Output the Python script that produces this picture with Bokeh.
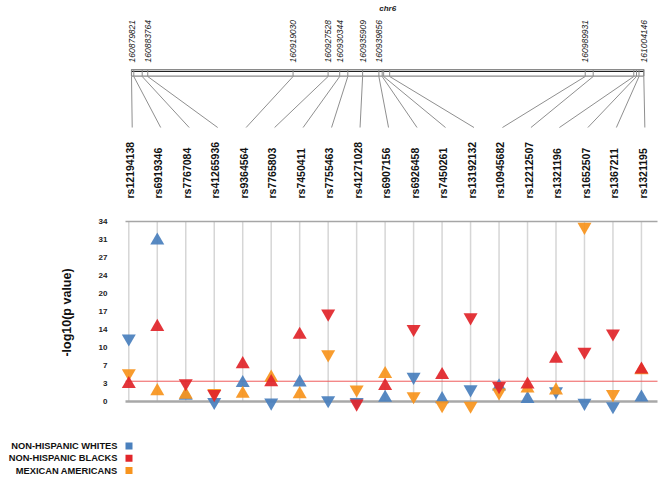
import math
from bokeh.plotting import figure
from bokeh.models import FixedTicker, Label, Range1d, ColumnDataSource
from bokeh.embed import file_html
from bokeh.resources import INLINE
from bokeh.core.properties import value

# ---------------- data ----------------
snps = ["rs12194138", "rs6919346", "rs7767084", "rs41265936", "rs9364564",
        "rs7765803", "rs7450411", "rs7755463", "rs41271028", "rs6907156",
        "rs6926458", "rs7450261", "rs13192132", "rs10945682", "rs12212507",
        "rs1321196", "rs1652507", "rs1367211", "rs1321195"]

positions = [160879821, 160880379, 160882418, 160883764, 160919030,
             160927528, 160930344, 160932312, 160935909, 160939856,
             160940660, 160941016, 160942472, 160989931, 160991865,
             161001718, 161002373, 161002980, 161004146]

labeled_positions = [160879821, 160883764, 160919030, 160927528, 160930344,
                     160935909, 160939856, 160989931, 161004146]
chrom_label = "chr6"

groups = ["NON-HISPANIC WHITES", "NON-HISPANIC BLACKS", "MEXICAN AMERICANS"]

whites_val = [11.9, 30.4, 1.1, -0.1, 3.5, -0.2, 3.6, 0.25, -0.1, 0.7,
              4.65, 0.45, 2.3, 2.85, 0.5, 1.95, -0.25, -0.9, 0.75]
whites_dir = ["d", "u", "u", "d", "u", "d", "u", "d", "d", "u",
              "d", "u", "d", "u", "u", "d", "d", "d", "u"]

blacks_val = [3.3, 14.1, 3.45, 1.4, 7.05, 3.65, 12.6, 16.6, -0.4, 2.95,
              13.7, 5.0, 15.9, 2.9, 3.2, 8.1, 9.4, 12.85, 6.05]
blacks_dir = ["u", "u", "d", "d", "u", "u", "u", "d", "d", "u",
              "d", "u", "d", "d", "u", "u", "d", "d", "u"]

mexican_val = [5.35, 1.95, 1.3, 1.6, 1.45, 4.5, 1.4, 8.9, 2.27, 5.2,
               1.0, -0.7, -0.8, 1.7, 2.45, 2.1, 33.0, 1.4, 5.9]
mexican_dir = ["d", "u", "u", "d", "u", "u", "u", "d", "d", "u",
               "d", "d", "d", "d", "u", "u", "d", "d", "u"]

threshold = 3.83

ytick_values = [0, 3.4, 6.8, 10.2, 13.6, 17, 20.4, 23.8, 27.2, 30.6, 34]
ytick_labels = ["0", "3", "7", "10", "14", "17", "20", "24", "27", "31", "34"]
y_title = "-log10(p value)"

# ---------------- layout (pixel geometry) ----------------
W, H = 661, 477
PLOT_LEFT_PX = 125
Y0_PX = 401.0
PX_PER_UNIT = 180.0 / 34.0
X1_PX = 128.3
X_STEP = 28.48


def sy(py):
    return (Y0_PX - py) / PX_PER_UNIT


def sx(px):
    return 1 + (px - X1_PX) / X_STEP


BAR_X0 = sx(131.0)
BAR_X1 = sx(643.3)


def gx(pos):
    return BAR_X0 + (pos - positions[0]) / (positions[-1] - positions[0]) * (BAR_X1 - BAR_X0)


FONT = "Liberation Sans"
BLUE = "#4a80bd"
RED = "#e1262b"
ORANGE = "#f7941e"

idx = list(range(1, len(snps) + 1))
x_left = sx(PLOT_LEFT_PX)
x_right = sx(657)

p = figure(width=W, height=H, output_backend="svg", toolbar_location=None,
           x_range=Range1d(sx(0), sx(W)),
           y_range=Range1d(sy(H), sy(0)),
           x_axis_location=None, y_axis_location="left",
           min_border_left=0, min_border_right=0,
           min_border_top=0, min_border_bottom=0)
p.outline_line_color = None
p.xgrid.visible = False
p.ygrid.visible = False
p.background_fill_color = "white"
p.border_fill_color = "white"

ax = p.yaxis[0]
ax.fixed_location = x_left
ax.ticker = FixedTicker(ticks=ytick_values)
ax.major_label_overrides = dict(zip(ytick_values, ytick_labels))
ax.axis_line_color = None
ax.major_tick_line_color = None
ax.minor_tick_line_color = None
ax.major_label_standoff = 12
ax.major_label_text_font = FONT
ax.major_label_text_font_size = "8px"
ax.major_label_text_font_style = "bold"
ax.major_label_text_color = "#222222"

# horizontal reference lines across the plot area
p.segment(x0=[x_left] * 3, x1=[x_right] * 3, y0=[34, 0, threshold], y1=[34, 0, threshold],
          line_color=["#a6a6a6", "#a8a8a8", "#ef5a5a"], line_width=[1.5, 2.5, 1])
# vertical grid lines per SNP
p.segment(x0=idx, y0=[0] * len(idx), x1=idx, y1=[34] * len(idx),
          line_color="#d6d6d6", line_width=1.5, level="underlay")

# chromosome bar
gxs = [gx(v) for v in positions]
p.quad(left=[BAR_X0], right=[BAR_X1], top=[sy(69)], bottom=[sy(75.7)],
       fill_color="white", line_color="#8a8a8a", line_width=1.2)
p.segment(x0=[BAR_X0], y0=[sy(70.8)], x1=[BAR_X1], y1=[sy(70.8)],
          line_color="#222222", line_width=1.3)
p.segment(x0=gxs, y0=[sy(69)] * len(gxs), x1=gxs, y1=[sy(75.7)] * len(gxs),
          line_color="#8a8a8a", line_width=1)
# connectors
p.segment(x0=gxs, y0=[sy(76)] * len(gxs), x1=[i + 0.12 for i in idx],
          y1=[sy(127)] * len(gxs), line_color="#8f8f8f", line_width=1)

# position labels
p.text(x=[gx(v) for v in labeled_positions], y=[sy(62)] * len(labeled_positions),
       text=[str(v) for v in labeled_positions], angle=math.pi / 2,
       text_align="left", text_baseline="middle", text_font=value(FONT),
       text_font_size="8.5px", text_font_style="italic", text_color="#222222")
p.text(x=[(BAR_X0 + BAR_X1) / 2], y=[sy(3.5)], text=[chrom_label],
       text_align="center", text_baseline="top", text_font=value(FONT),
       text_font_size="8px", text_font_style="bold italic", text_color="#222222")

# SNP labels
p.text(x=[i + 0.04 for i in idx], y=[sy(198)] * len(idx), text=snps,
       angle=math.pi / 2, text_align="left", text_baseline="middle",
       text_font=value(FONT), text_font_size="10.5px", text_font_style="bold",
       text_color="#111111")

# markers
series = [(whites_val, whites_dir, BLUE), (mexican_val, mexican_dir, ORANGE),
          (blacks_val, blacks_dir, RED)]
for vals, dirs, col in series:
    src = ColumnDataSource(dict(
        x=idx, y=vals,
        m=["triangle" if d == "u" else "inverted_triangle" for d in dirs]))
    p.scatter(x="x", y="y", marker="m", size=14, source=src,
              fill_color=col, line_color=None, fill_alpha=0.93)

# y-axis title
p.add_layout(Label(x=sx(66), y=sy(312), text=y_title, angle=math.pi / 2,
                   text_align="center", text_baseline="middle",
                   text_font=FONT, text_font_size="12.5px",
                   text_font_style="bold", text_color="#111111"))

# legend (text then square)
legend_rows_px = [445.5, 457.7, 470]
p.text(x=[sx(117)] * 3, y=[sy(v) for v in legend_rows_px], text=groups,
       text_align="right", text_baseline="middle", text_font=value(FONT),
       text_font_size="9.3px", text_font_style="bold", text_color="#111111")
p.scatter(x=[sx(128.5)] * 3, y=[sy(v) for v in legend_rows_px], marker="square",
          size=7, fill_color=[BLUE, RED, ORANGE], line_color=None)

open("out.html", "w").write(file_html(p, INLINE))
